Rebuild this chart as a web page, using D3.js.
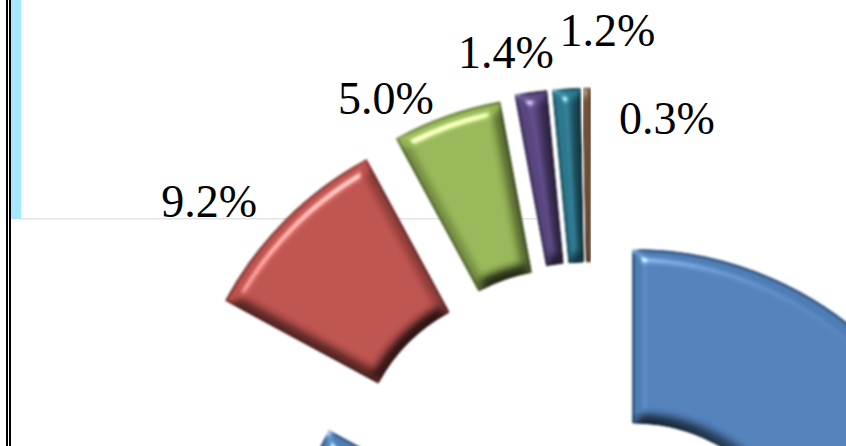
<!DOCTYPE html>
<html>
<head>
<meta charset="utf-8">
<script src="https://cdnjs.cloudflare.com/ajax/libs/d3/7.8.5/d3.min.js"></script>
<style>
  html, body { margin: 0; padding: 0; background: #fff; overflow: hidden; }
  text { font-family: "Liberation Serif", serif; font-size: 46px; fill: #000; }
</style>
</head>
<body>
<div id="chart"></div>
<script>
// Values (the big blue slice has no visible label)
const categories = ["blue", "red", "green", "purple", "teal", "brown"];
const shares = [82.9, 9.2, 5.0, 1.4, 1.2, 0.3];
const labels = ["", "9.2%", "5.0%", "1.4%", "1.2%", "0.3%"];
const colors = ["#4f7db5", "#b9504c", "#94b355", "#5a4680", "#2c788e", "#7a5236"];

const width = 846;
const height = 446;
const cx = 591;
const cy = 525;
const outer = 346;
const inner = 174;
const explode = [83, 85, 87, 90, 90, 90];
// label shift from the outer edge of its slice
const labelShift = [null, [-77, -3], [-61, -3], [-25, -25], [41, -44], [80, 45]];

const svg = d3.select("#chart")
  .append("svg")
  .attr("width", width)
  .attr("height", height)
  .style("display", "block");

// Bevel look: lighting on the eroded, blurred slice shape
const defs = svg.append("defs");
const filter = defs.append("filter")
  .attr("id", "bevel")
  .attr("x", "-5%").attr("y", "-5%")
  .attr("width", "110%").attr("height", "110%")
  .attr("color-interpolation-filters", "sRGB");
filter.append("feMorphology")
  .attr("in", "SourceAlpha").attr("operator", "erode").attr("radius", 3).attr("result", "thin");
filter.append("feGaussianBlur")
  .attr("in", "thin").attr("stdDeviation", 5.5).attr("result", "blur");
const diffuse = filter.append("feDiffuseLighting")
  .attr("in", "blur").attr("surfaceScale", 6.5).attr("diffuseConstant", 1.42)
  .attr("lighting-color", "#fff").attr("result", "light");
diffuse.append("feDistantLight").attr("azimuth", 240).attr("elevation", 45);
// keep some of the base colour so the shaded side never goes black
filter.append("feComposite")
  .attr("in", "SourceGraphic").attr("in2", "light")
  .attr("operator", "arithmetic")
  .attr("k1", 0.75).attr("k2", 0.25).attr("k3", 0).attr("k4", 0)
  .attr("result", "lit");
const spec = filter.append("feSpecularLighting")
  .attr("in", "blur").attr("surfaceScale", 6.5).attr("specularConstant", 0.55)
  .attr("specularExponent", 40).attr("lighting-color", "#fff").attr("result", "spec");
spec.append("feDistantLight").attr("azimuth", 240).attr("elevation", 45);
filter.append("feComposite")
  .attr("in", "spec").attr("in2", "SourceAlpha").attr("operator", "in").attr("result", "specIn");
filter.append("feComposite")
  .attr("in", "lit").attr("in2", "specIn")
  .attr("operator", "arithmetic")
  .attr("k1", 0).attr("k2", 1).attr("k3", 1).attr("k4", 0)
  .attr("result", "sum");
filter.append("feComposite")
  .attr("in", "sum").attr("in2", "SourceAlpha").attr("operator", "in").attr("result", "shape");
filter.append("feGaussianBlur")
  .attr("in", "shape").attr("stdDeviation", 0.8);

// Frame on the left, pale band and thin rule
svg.append("rect").attr("x", 6).attr("y", 0).attr("width", 2).attr("height", height).attr("fill", "#000");
svg.append("rect").attr("x", 9).attr("y", 0).attr("width", 2).attr("height", height).attr("fill", "#000");
svg.append("rect").attr("x", 11).attr("y", 0).attr("width", 10).attr("height", 219).attr("fill", "#a8e8ff");
svg.append("rect").attr("x", 21).attr("y", 218).attr("width", 515).attr("height", 1.5).attr("fill", "#e4e4e4");

const pie = d3.pie().sort(null).value(d => d);
const arc = d3.arc().innerRadius(inner).outerRadius(outer);
const arcs = pie(shares);

const slices = svg.append("g").attr("transform", `translate(${cx},${cy})`);

slices.selectAll("path")
  .data(arcs)
  .join("path")
  .attr("d", arc)
  .attr("fill", (d, i) => colors[i])
  .attr("stroke", (d, i) => d3.color(colors[i]).darker(0.8))
  .attr("stroke-width", 3)
  .attr("stroke-linejoin", "round")
  .attr("filter", "url(#bevel)")
  .attr("transform", (d, i) => {
    const mid = (d.startAngle + d.endAngle) / 2;
    return `translate(${Math.sin(mid) * explode[i]},${-Math.cos(mid) * explode[i]})`;
  });

slices.selectAll("text")
  .data(arcs.slice(1))
  .join("text")
  .attr("text-anchor", "middle")
  .text((d, i) => labels[i + 1])
  .attr("x", (d, i) => {
    const mid = (d.startAngle + d.endAngle) / 2;
    return Math.sin(mid) * (outer + explode[i + 1]) + labelShift[i + 1][0];
  })
  .attr("y", (d, i) => {
    const mid = (d.startAngle + d.endAngle) / 2;
    return -Math.cos(mid) * (outer + explode[i + 1]) + labelShift[i + 1][1];
  });
</script>
</body>
</html>
